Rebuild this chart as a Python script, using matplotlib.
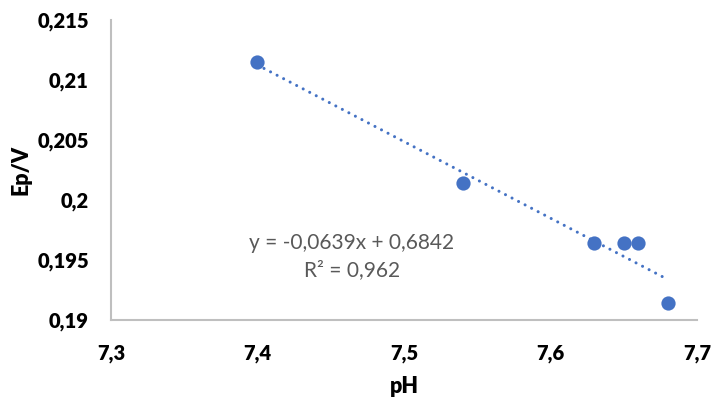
import numpy as np
import matplotlib
matplotlib.use("Agg")
import matplotlib.pyplot as plt

# data
ph = np.array([7.40, 7.54, 7.63, 7.65, 7.66, 7.68])
ep = np.array([0.2115, 0.2014, 0.1964, 0.1964, 0.1964, 0.1914])

x_ticks = [7.3, 7.4, 7.5, 7.6, 7.7]
x_labels = ["7,3", "7,4", "7,5", "7,6", "7,7"]
y_ticks = [0.19, 0.195, 0.2, 0.205, 0.21, 0.215]
y_labels = ["0,19", "0,195", "0,2", "0,205", "0,21", "0,215"]

eq_text = "y = -0,0639x + 0,6842"
r2_text = "R² = 0,962"

plt.rcParams['font.family'] = ['Lato', 'DejaVu Sans']

blue = "#4472C4"
grey_axis = "#BFBFBF"

fig = plt.figure(figsize=(7.14, 4.01), dpi=100)
ax = fig.add_axes([0.1555, 0.202, 0.8205, 0.748])

# linear trendline (least squares on the points)
k, b = np.polyfit(ph, ep, 1)
xt = np.array([ph.min(), ph.max()])
ax.plot(xt, k * xt + b, color=blue, lw=2.2,
        linestyle=(0, (0.01, 2.4)), dash_capstyle="round", zorder=2)

ax.scatter(ph, ep, s=105, color=blue, zorder=3, linewidths=0)

ax.set_xlim(7.3, 7.7)
ax.set_ylim(0.19, 0.215)
ax.set_xticks(x_ticks)
ax.set_xticklabels(x_labels, fontsize=14.5, fontweight="heavy")
ax.set_yticks(y_ticks)
ax.set_yticklabels(y_labels, fontsize=14.5, fontweight="heavy")
ax.tick_params(axis="both", length=0)
ax.tick_params(axis="y", pad=16)
ax.tick_params(axis="x", pad=17)

for s in ["top", "right"]:
    ax.spines[s].set_visible(False)
for s in ["left", "bottom"]:
    ax.spines[s].set_color(grey_axis)
    ax.spines[s].set_linewidth(1.5)

ax.set_xlabel("pH", fontsize=15.5, fontweight="heavy", labelpad=10)
ax.set_ylabel("Ep/V", fontsize=15.5, fontweight="heavy", labelpad=4)

ax.text(7.4645, 0.1964, eq_text, fontsize=15, color="#595959",
        ha="center", va="center")
ax.text(7.4645, 0.19415, r2_text, fontsize=15, color="#595959",
        ha="center", va="center")

fig.savefig("out.png", dpi=100)
